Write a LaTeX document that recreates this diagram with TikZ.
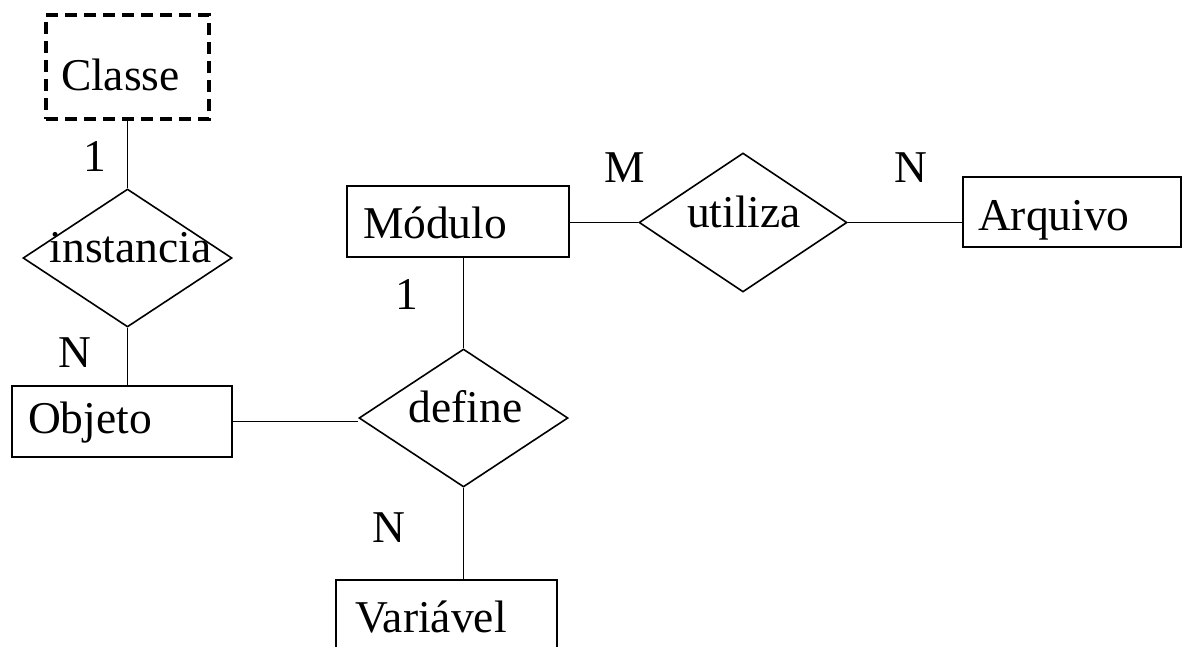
\documentclass[tikz,border=0pt]{standalone}
\usepackage{fontspec}
\setmainfont{Liberation Serif}
\usetikzlibrary{shapes.geometric}

% diamond label: zero-size box so the diamond keeps its given size
\newcommand{\rellabel}[3]{\raisebox{#2}{\makebox[0pt][c]{\hspace*{#3}#1}}}

\begin{document}
\begin{tikzpicture}[x=1pt,y=-1pt,
  every node/.style={font=\fontsize{45.5}{54}\selectfont},
  entitybox/.style={draw,line width=1.6pt,rectangle,align=left,inner ysep=0pt},
  weakbox/.style={draw,line width=3.2pt,dash pattern=on 12pt off 7pt,rectangle,align=left,inner ysep=0pt},
  relbox/.style={draw,line width=1.6pt,shape=diamond,inner sep=0pt,text height=0pt,text depth=0pt},
  card/.style={anchor=base,inner sep=0pt},
  link/.style={line width=1.6pt}]
\useasboundingbox (0,0) rectangle (1184,646);
\clip (0,0) rectangle (1184,646);

% entities
\node[weakbox,inner xsep=15pt,text width=133pt,text height=75pt,text depth=29pt] (classe) at (127.5,67) {Classe};
\node[entitybox,inner xsep=16pt,text width=188pt,text height=47pt,text depth=24pt] (objeto) at (122,421.5) {Objeto};
\node[entitybox,inner xsep=16pt,text width=190pt,text height=52pt,text depth=19pt] (modulo) at (458,221.5) {Módulo};
\node[entitybox,inner xsep=15pt,text width=188pt,text height=53pt,text depth=17pt] (arquivo) at (1072,212) {Arquivo};
\node[entitybox,inner xsep=19pt,text width=183pt,text height=52pt,text depth=48pt] (variavel) at (446.5,630) {Variável};

% relationships
\node[relbox,minimum width=209pt,minimum height=138pt] (instancia) at (127.5,258) {\rellabel{instancia}{-4pt}{6pt}};
\node[relbox,minimum width=208pt,minimum height=139pt] (utiliza) at (743,222.5) {\rellabel{utiliza}{-4.5pt}{2pt}};
\node[relbox,minimum width=209pt,minimum height=138pt] (define) at (463.5,418) {\rellabel{define}{-4pt}{4pt}};

% connectors
\draw[link] (classe.south) -- (instancia.north);
\draw[link] (instancia.south) -- (instancia.south |- objeto.north);
\draw[link] (objeto.east) -- (objeto.east -| define.west);
\draw[link] (define.north) -- (define.north |- modulo.south);
\draw[link] (utiliza.west) -- (utiliza.west -| modulo.east);
\draw[link] (utiliza.east) -- (utiliza.east -| arquivo.west);
\draw[link] (define.south) -- (define.south |- variavel.north);

% cardinalities
\node[card] (c1) at (94.5,171) {1};
\node[card] (c2) at (75,367) {N};
\node[card] (c3) at (407,309) {1};
\node[card] (c4) at (389,542) {N};
\node[card] (c5) at (625,182) {M};
\node[card] (c6) at (910.5,182) {N};
\end{tikzpicture}
\end{document}
